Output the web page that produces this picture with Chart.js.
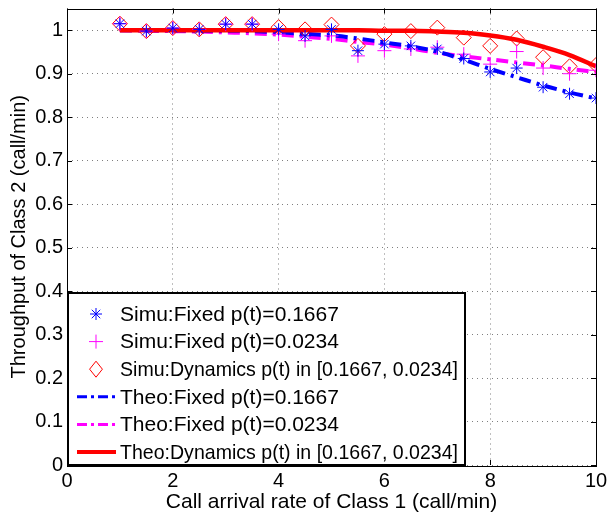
<!DOCTYPE html>
<html>
<head>
<meta charset="utf-8">
<script src="https://cdn.jsdelivr.net/npm/chart.js@4.4.1/dist/chart.umd.min.js"></script>
<style>
  html, body { margin: 0; padding: 0; background: #fff; }
  #wrap { width: 607px; height: 517px; }
</style>
</head>
<body>
<div id="wrap"><canvas id="chartThroughput" width="607" height="517"></canvas></div>
<script>
// Datos
const arrivalRate = [1, 1.5, 2, 2.5, 3, 3.5, 4, 4.5, 5, 5.5, 6, 6.5, 7, 7.5, 8, 8.5, 9, 9.5, 10];

const simuFixedHigh = [1.015, 0.998, 1.005, 1.002, 1.014, 1.014, 1.002, 0.987, 1.002, 0.953, 0.968, 0.964, 0.957, 0.935, 0.904, 0.913, 0.869, 0.854, 0.844];
const simuFixedLow = [1.015, 0.998, 1.005, 1.002, 1.014, 1.014, 0.991, 0.976, 0.987, 0.941, 0.953, 0.957, 0.961, 0.945, 0.922, 0.951, 0.913, 0.900, 0.908];
const simuDynamic = [1.015, 0.998, 1.005, 1.002, 1.014, 1.014, 1.007, 1.002, 1.013, 0.964, 0.991, 0.998, 1.006, 0.983, 0.964, 0.981, 0.938, 0.917, 0.920];

const theoFixedHigh = [1.000, 1.000, 1.000, 0.999, 0.999, 0.998, 0.995, 0.992, 0.988, 0.981, 0.972, 0.963, 0.951, 0.932, 0.911, 0.892, 0.873, 0.857, 0.843];
const theoFixedLow = [1.000, 0.999, 0.998, 0.997, 0.995, 0.993, 0.990, 0.985, 0.980, 0.973, 0.967, 0.958, 0.948, 0.940, 0.933, 0.926, 0.919, 0.911, 0.904];
const theoDynamic = [1.000, 1.000, 1.000, 1.000, 1.000, 1.000, 1.000, 1.000, 1.000, 1.000, 0.999, 0.999, 0.997, 0.994, 0.988, 0.978, 0.962, 0.943, 0.917];

const xTicks = [0, 2, 4, 6, 8, 10];
const yTicks = [0, 0.1, 0.2, 0.3, 0.4, 0.5, 0.6, 0.7, 0.8, 0.9, 1];

const legendLabels = [
    'Simu:Fixed p(t)=0.1667',
    'Simu:Fixed p(t)=0.0234',
    'Simu:Dynamics p(t) in [0.1667, 0.0234]',
    'Theo:Fixed p(t)=0.1667',
    'Theo:Fixed p(t)=0.0234',
    'Theo:Dynamics p(t) in [0.1667, 0.0234]'
];

const FONT = '"Liberation Sans", Arial, Helvetica, sans-serif';
const toPoints = ys => arrivalRate.map((x, i) => ({ x: x, y: ys[i] }));

// Marcadores propios para la leyenda
function drawMarker(ctx, kind, x, y, color) {
    ctx.save();
    ctx.strokeStyle = color;
    ctx.lineWidth = 1;
    ctx.beginPath();
    if (kind === 'star') {
        const r = 6, d = r * Math.SQRT1_2;
        ctx.moveTo(x - r, y); ctx.lineTo(x + r, y);
        ctx.moveTo(x, y - r); ctx.lineTo(x, y + r);
        ctx.moveTo(x - d, y - d); ctx.lineTo(x + d, y + d);
        ctx.moveTo(x - d, y + d); ctx.lineTo(x + d, y - d);
    } else if (kind === 'plus') {
        const r = 7;
        ctx.moveTo(x - r, y); ctx.lineTo(x + r, y);
        ctx.moveTo(x, y - r); ctx.lineTo(x, y + r);
    } else if (kind === 'diamond') {
        const r = 8;
        ctx.moveTo(x, y - r); ctx.lineTo(x + r * 0.8, y);
        ctx.lineTo(x, y + r); ctx.lineTo(x - r * 0.8, y);
        ctx.closePath();
    }
    ctx.stroke();
    ctx.restore();
}

const legendItems = [
    { marker: 'star', color: '#0000ff' },
    { marker: 'plus', color: '#ff00ff' },
    { marker: 'diamond', color: '#ff0000' },
    { line: true, color: '#0000ff', dash: [10, 4, 3, 4], width: 3 },
    { line: true, color: '#ff00ff', dash: [10, 4, 3, 4], width: 3 },
    { line: true, color: '#ff0000', dash: [], width: 4 }
];

const matlabFrame = {
    id: 'matlabFrame',
    afterDatasetsDraw(chart) {
        const { ctx, chartArea: a, scales } = chart;
        ctx.save();
        // ticks hacia dentro
        ctx.strokeStyle = '#000';
        ctx.lineWidth = 1;
        ctx.beginPath();
        xTicks.forEach(v => {
            const px = Math.round(scales.x.getPixelForValue(v)) + 0.5;
            ctx.moveTo(px, a.bottom); ctx.lineTo(px, a.bottom - 5);
            ctx.moveTo(px, a.top); ctx.lineTo(px, a.top + 5);
        });
        yTicks.forEach(v => {
            const py = Math.round(scales.y.getPixelForValue(v)) + 0.5;
            ctx.moveTo(a.left, py); ctx.lineTo(a.left + 5, py);
            ctx.moveTo(a.right, py); ctx.lineTo(a.right - 5, py);
        });
        ctx.stroke();
        ctx.strokeRect(Math.round(a.left) + 0.5, Math.round(a.top) + 0.5,
            Math.round(a.right - a.left), Math.round(a.bottom - a.top));
        ctx.restore();
    },
    afterDraw(chart) {
        const { ctx, chartArea: a } = chart;
        const boxL = a.left + 1, boxT = 293, boxR = 465, boxB = a.bottom;
        ctx.save();
        ctx.fillStyle = '#fff';
        ctx.fillRect(boxL, boxT, boxR - boxL, boxB - boxT);
        ctx.strokeStyle = '#000';
        ctx.lineWidth = 2;
        ctx.strokeRect(boxL, boxT, boxR - boxL, boxB - boxT);
        ctx.font = '21px ' + FONT;
        ctx.textBaseline = 'middle';
        ctx.fillStyle = '#000';
        legendItems.forEach((it, i) => {
            const y = 314 + i * 27.6;
            if (it.line) {
                ctx.save();
                ctx.strokeStyle = it.color;
                ctx.lineWidth = it.width;
                ctx.setLineDash(it.dash);
                ctx.beginPath();
                ctx.moveTo(77, y); ctx.lineTo(116, y);
                ctx.stroke();
                ctx.restore();
            } else {
                drawMarker(ctx, it.marker, 96, y, it.color);
            }
            ctx.fillText(legendLabels[i], 120, y + 1, 338);
        });
        ctx.restore();
    }
};

const gridStyle = { color: 'rgba(0,0,0,0.5)', drawTicks: false, lineWidth: 1 };
const borderStyle = { display: false, dash: [1, 4] };

const ctxThroughput = document.getElementById('chartThroughput').getContext('2d');
new Chart(ctxThroughput, {
    type: 'line',
    data: {
        datasets: [
            {
                label: legendLabels[0], data: toPoints(simuFixedHigh), showLine: false,
                pointStyle: 'star', pointRadius: 6, borderColor: '#0000ff', backgroundColor: '#0000ff',
                pointBorderWidth: 1, order: 1
            },
            {
                label: legendLabels[1], data: toPoints(simuFixedLow), showLine: false,
                pointStyle: 'cross', pointRadius: 7, borderColor: '#ff00ff', backgroundColor: '#ff00ff',
                pointBorderWidth: 1, order: 1
            },
            {
                label: legendLabels[2], data: toPoints(simuDynamic), showLine: false,
                pointStyle: 'rectRot', pointRadius: 7.5, borderColor: '#ff0000', backgroundColor: 'rgba(0,0,0,0)',
                pointBorderWidth: 1, order: 1
            },
            {
                label: legendLabels[3], data: toPoints(theoFixedHigh), pointRadius: 0,
                borderColor: '#0000ff', borderWidth: 4, borderDash: [12, 6, 3, 6],
                cubicInterpolationMode: 'monotone', order: 3
            },
            {
                label: legendLabels[4], data: toPoints(theoFixedLow), pointRadius: 0,
                borderColor: '#ff00ff', borderWidth: 4, borderDash: [12, 6, 3, 6],
                cubicInterpolationMode: 'monotone', order: 3
            },
            {
                label: legendLabels[5], data: toPoints(theoDynamic), pointRadius: 0,
                borderColor: '#ff0000', borderWidth: 4.5,
                cubicInterpolationMode: 'monotone', order: 2
            }
        ]
    },
    options: {
        responsive: false,
        animation: false,
        layout: { padding: { top: 5, right: 11, left: 0, bottom: 0 } },
        plugins: { legend: { display: false }, tooltip: { enabled: false } },
        scales: {
            x: {
                type: 'linear', min: 0, max: 10,
                afterBuildTicks: s => { s.ticks = xTicks.map(v => ({ value: v })); },
                afterFit: s => { s.height = 52; s.paddingLeft = 0; s.paddingRight = 0; },
                border: borderStyle,
                grid: gridStyle,
                ticks: { color: '#000', padding: 4, font: { family: FONT, size: 20 }, maxRotation: 0 },
                title: {
                    display: true, text: 'Call arrival rate of Class 1 (call/min)', color: '#000',
                    font: { family: FONT, size: 21 }, padding: { top: 0, bottom: 2 }
                }
            },
            y: {
                type: 'linear', min: 0, max: 1.05,
                afterBuildTicks: s => { s.ticks = yTicks.map(v => ({ value: v })); },
                afterFit: s => { s.width = 67; s.paddingTop = 0; s.paddingBottom = 0; },
                border: borderStyle,
                grid: gridStyle,
                ticks: {
                    color: '#000', padding: 4, font: { family: FONT, size: 20 },
                    callback: v => String(Math.round(v * 10) / 10)
                },
                title: {
                    display: true, text: 'Throughput of Class 2 (call/min)', color: '#000',
                    font: { family: FONT, size: 20 }, padding: { top: 7, bottom: 0 }
                }
            }
        }
    },
    plugins: [matlabFrame]
});
</script>
</body>
</html>
